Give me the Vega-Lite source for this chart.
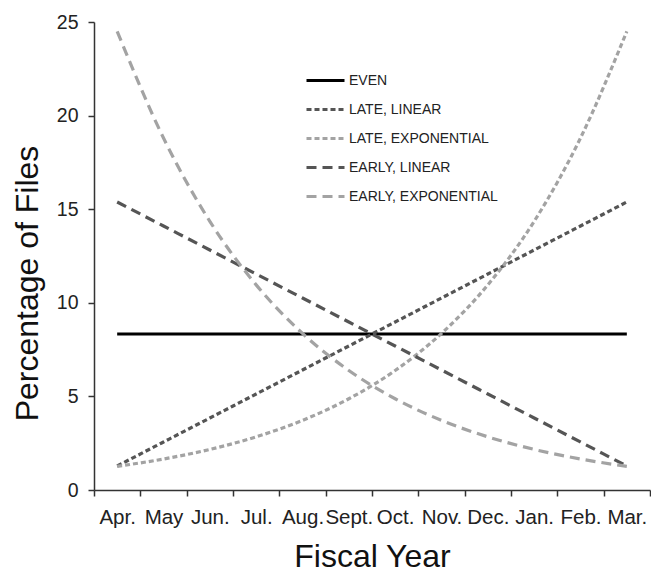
{
  "$schema": "https://vega.github.io/schema/vega-lite/v6.json",
  "width": 556,
  "height": 468,
  "autosize": {"type": "none"},
  "padding": {"left": 94, "top": 22, "right": 1, "bottom": 81},
  "background": "white",
  "config": {
    "view": {"stroke": null},
    "font": "Liberation Sans",
    "axis": {"grid": false, "domainColor": "#333", "domainWidth": 1.5, "tickColor": "#333", "tickWidth": 1.5, "tickSize": 6, "labelColor": "#222", "titleColor": "#111", "titleFont": "Liberation Sans", "labelFont": "Liberation Sans", "titleFontWeight": "normal", "titleFontSize": 32}
  },
  "data": {
    "values": [
      {"s": "EVEN", "i": 1, "v": 8.333}, {"s": "EVEN", "i": 2, "v": 8.333}, {"s": "EVEN", "i": 3, "v": 8.333}, {"s": "EVEN", "i": 4, "v": 8.333}, {"s": "EVEN", "i": 5, "v": 8.333}, {"s": "EVEN", "i": 6, "v": 8.333}, {"s": "EVEN", "i": 7, "v": 8.333}, {"s": "EVEN", "i": 8, "v": 8.333}, {"s": "EVEN", "i": 9, "v": 8.333}, {"s": "EVEN", "i": 10, "v": 8.333}, {"s": "EVEN", "i": 11, "v": 8.333}, {"s": "EVEN", "i": 12, "v": 8.333},
      {"s": "LATE, LINEAR", "i": 1, "v": 1.282}, {"s": "LATE, LINEAR", "i": 2, "v": 2.564}, {"s": "LATE, LINEAR", "i": 3, "v": 3.846}, {"s": "LATE, LINEAR", "i": 4, "v": 5.128}, {"s": "LATE, LINEAR", "i": 5, "v": 6.41}, {"s": "LATE, LINEAR", "i": 6, "v": 7.692}, {"s": "LATE, LINEAR", "i": 7, "v": 8.974}, {"s": "LATE, LINEAR", "i": 8, "v": 10.256}, {"s": "LATE, LINEAR", "i": 9, "v": 11.538}, {"s": "LATE, LINEAR", "i": 10, "v": 12.821}, {"s": "LATE, LINEAR", "i": 11, "v": 14.103}, {"s": "LATE, LINEAR", "i": 12, "v": 15.385},
      {"s": "LATE, EXPONENTIAL", "i": 1, "v": 1.263}, {"s": "LATE, EXPONENTIAL", "i": 2, "v": 1.655}, {"s": "LATE, EXPONENTIAL", "i": 3, "v": 2.168}, {"s": "LATE, EXPONENTIAL", "i": 4, "v": 2.84}, {"s": "LATE, EXPONENTIAL", "i": 5, "v": 3.72}, {"s": "LATE, EXPONENTIAL", "i": 6, "v": 4.874}, {"s": "LATE, EXPONENTIAL", "i": 7, "v": 6.385}, {"s": "LATE, EXPONENTIAL", "i": 8, "v": 8.364}, {"s": "LATE, EXPONENTIAL", "i": 9, "v": 10.957}, {"s": "LATE, EXPONENTIAL", "i": 10, "v": 14.353}, {"s": "LATE, EXPONENTIAL", "i": 11, "v": 18.803}, {"s": "LATE, EXPONENTIAL", "i": 12, "v": 24.5},
      {"s": "EARLY, LINEAR", "i": 1, "v": 15.385}, {"s": "EARLY, LINEAR", "i": 2, "v": 14.103}, {"s": "EARLY, LINEAR", "i": 3, "v": 12.821}, {"s": "EARLY, LINEAR", "i": 4, "v": 11.538}, {"s": "EARLY, LINEAR", "i": 5, "v": 10.256}, {"s": "EARLY, LINEAR", "i": 6, "v": 8.974}, {"s": "EARLY, LINEAR", "i": 7, "v": 7.692}, {"s": "EARLY, LINEAR", "i": 8, "v": 6.41}, {"s": "EARLY, LINEAR", "i": 9, "v": 5.128}, {"s": "EARLY, LINEAR", "i": 10, "v": 3.846}, {"s": "EARLY, LINEAR", "i": 11, "v": 2.564}, {"s": "EARLY, LINEAR", "i": 12, "v": 1.282},
      {"s": "EARLY, EXPONENTIAL", "i": 1, "v": 24.5}, {"s": "EARLY, EXPONENTIAL", "i": 2, "v": 18.803}, {"s": "EARLY, EXPONENTIAL", "i": 3, "v": 14.353}, {"s": "EARLY, EXPONENTIAL", "i": 4, "v": 10.957}, {"s": "EARLY, EXPONENTIAL", "i": 5, "v": 8.364}, {"s": "EARLY, EXPONENTIAL", "i": 6, "v": 6.385}, {"s": "EARLY, EXPONENTIAL", "i": 7, "v": 4.874}, {"s": "EARLY, EXPONENTIAL", "i": 8, "v": 3.72}, {"s": "EARLY, EXPONENTIAL", "i": 9, "v": 2.84}, {"s": "EARLY, EXPONENTIAL", "i": 10, "v": 2.168}, {"s": "EARLY, EXPONENTIAL", "i": 11, "v": 1.655}, {"s": "EARLY, EXPONENTIAL", "i": 12, "v": 1.263}
    ]
  },
  "mark": {"type": "line", "interpolate": "monotone", "strokeWidth": 3.2},
  "encoding": {
    "x": {
      "field": "i", "type": "quantitative",
      "scale": {"domain": [0.5, 12.5], "nice": false, "zero": false},
      "axis": {
        "title": "Fiscal Year",
        "values": [0.5, 1, 1.5, 2, 2.5, 3, 3.5, 4, 4.5, 5, 5.5, 6, 6.5, 7, 7.5, 8, 8.5, 9, 9.5, 10, 10.5, 11, 11.5, 12, 12.5],
        "labelExpr": "datum.value % 1 == 0 ? ['','Apr.','May','Jun.','Jul.','Aug.','Sept.','Oct.','Nov.','Dec.','Jan.','Feb.','Mar.'][datum.value] : ''",
        "tickOpacity": {"condition": {"test": "datum.value % 1 == 0", "value": 0}, "value": 1},
        "labelFontSize": 20.5,
        "labelBaseline": "alphabetic",
        "labelPadding": 27,
        "labelOverlap": false,
        "labelFlush": false,
        "titleBaseline": "alphabetic",
        "titleY": 76,
        "titleX": 278
      }
    },
    "y": {
      "field": "v", "type": "quantitative",
      "scale": {"domain": [0, 25], "nice": false},
      "axis": {
        "title": "Percentage of Files",
        "values": [0, 5, 10, 15, 20, 25],
        "labelFontSize": 19.5,
        "labelPadding": 10,
        "titleBaseline": "alphabetic",
        "titleX": -57,
        "titleY": 261,
        "titleAngle": -90
      }
    },
    "color": {
      "field": "s", "type": "nominal",
      "scale": {"domain": ["EVEN", "LATE, LINEAR", "LATE, EXPONENTIAL", "EARLY, LINEAR", "EARLY, EXPONENTIAL"], "range": ["#000000", "#555555", "#a3a3a3", "#555555", "#a3a3a3"]},
      "legend": {"title": null, "orient": "none", "legendX": 211, "legendY": 38, "symbolType": "stroke", "symbolSize": 1444, "symbolStrokeWidth": 3, "labelFontSize": 14, "labelColor": "#222", "labelOffset": 3, "rowPadding": 1, "padding": 0}
    },
    "strokeDash": {
      "field": "s", "type": "nominal",
      "scale": {"domain": ["EVEN", "LATE, LINEAR", "LATE, EXPONENTIAL", "EARLY, LINEAR", "EARLY, EXPONENTIAL"], "range": [[1, 0], [5, 3], [5, 3], [10, 6], [10, 6]]},
      "legend": {"title": null, "orient": "none", "legendX": 211, "legendY": 38, "symbolType": "stroke", "symbolSize": 1444, "symbolStrokeWidth": 3, "labelFontSize": 14, "labelColor": "#222", "labelOffset": 3, "rowPadding": 1, "padding": 0}
    }
  }
}
